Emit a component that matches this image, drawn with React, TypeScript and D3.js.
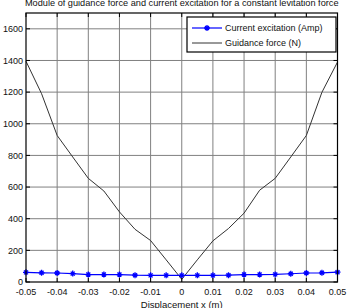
import React, { useEffect, useRef } from "react";
import * as d3 from "d3";

// displacement samples (m)
const displacement = [
  -0.05, -0.045, -0.04, -0.035, -0.03, -0.025, -0.02, -0.015, -0.01, -0.005, 0,
  0.005, 0.01, 0.015, 0.02, 0.025, 0.03, 0.035, 0.04, 0.045, 0.05,
];
// guidance force (N)
const guidanceForce = [
  1395, 1190, 926, 790, 655, 575, 443, 333, 262, 140, 17,
  140, 260, 338, 435, 580, 655, 790, 926, 1199, 1390,
];
// current excitation (Amp)
const currentExcitation = [
  61, 58, 57, 53, 47, 47, 47, 43, 42, 42, 42,
  42, 42, 43, 47, 47, 48, 52, 57, 58, 62,
];
const xTicks = [-0.05, -0.04, -0.03, -0.02, -0.01, 0, 0.01, 0.02, 0.03, 0.04, 0.05];
const yTicks = [0, 200, 400, 600, 800, 1000, 1200, 1400, 1600];

const W = 347;
const H = 308;
const FONT = "'Liberation Sans', Arial, sans-serif";

export default function App() {
  const svgRef = useRef<SVGSVGElement>(null);

  useEffect(() => {
    const svg = d3.select(svgRef.current);
    svg.selectAll("*").remove();

    const margin = { top: 13, right: 9.5, bottom: 26, left: 26 };
    const iw = W - margin.left - margin.right;
    const ih = H - margin.top - margin.bottom;

    const x = d3.scaleLinear().domain([-0.05, 0.05]).range([0, iw]);
    const y = d3.scaleLinear().domain([0, 1700]).range([ih, 0]);

    const g = svg.append("g").attr("transform", `translate(${margin.left},${margin.top})`);

    g.append("rect").attr("width", iw).attr("height", ih).attr("fill", "#fff");

    // grid
    g.append("g")
      .selectAll("line")
      .data(xTicks.slice(1, -1))
      .join("line")
      .attr("x1", (d) => x(d))
      .attr("x2", (d) => x(d))
      .attr("y1", 0)
      .attr("y2", ih)
      .attr("stroke", "#808080")
      .attr("stroke-width", 1);
    g.append("g")
      .selectAll("line")
      .data(yTicks.slice(1))
      .join("line")
      .attr("x1", 0)
      .attr("x2", iw)
      .attr("y1", (d) => y(d))
      .attr("y2", (d) => y(d))
      .attr("stroke", "#808080")
      .attr("stroke-width", 1);

    // guidance force
    const curve = d3
      .line<number>()
      .x((_, i) => x(displacement[i]))
      .y((d) => y(d));
    g.append("path")
      .datum(guidanceForce)
      .attr("d", curve)
      .attr("fill", "none")
      .attr("stroke", "#333")
      .attr("stroke-width", 1);

    // current excitation
    g.append("path")
      .datum(currentExcitation)
      .attr("d", curve)
      .attr("fill", "none")
      .attr("stroke", "#0000ff")
      .attr("stroke-width", 1.2);

    const star = (sel: d3.Selection<any, any, any, any>, cx: number, cy: number) => {
      const r = 3;
      sel.append("path")
        .attr(
          "d",
          `M${cx - r},${cy}L${cx + r},${cy}M${cx},${cy - r}L${cx},${cy + r}` +
            `M${cx - 2},${cy - 2}L${cx + 2},${cy + 2}M${cx - 2},${cy + 2}L${cx + 2},${cy - 2}`
        )
        .attr("stroke", "#0000ff")
        .attr("stroke-width", 1.3);
    };
    const markers = g.append("g");
    currentExcitation.forEach((v, i) => star(markers, x(displacement[i]), y(v)));

    // axes box and ticks
    g.append("rect")
      .attr("width", iw)
      .attr("height", ih)
      .attr("fill", "none")
      .attr("stroke", "#000")
      .attr("stroke-width", 1.2);

    const tl = 4;
    const ticks = g.append("g").attr("stroke", "#000").attr("stroke-width", 1);
    xTicks.forEach((t) => {
      ticks.append("line").attr("x1", x(t)).attr("x2", x(t)).attr("y1", ih).attr("y2", ih - tl);
      ticks.append("line").attr("x1", x(t)).attr("x2", x(t)).attr("y1", 0).attr("y2", tl);
    });
    yTicks.forEach((t) => {
      ticks.append("line").attr("x1", 0).attr("x2", tl).attr("y1", y(t)).attr("y2", y(t));
      ticks.append("line").attr("x1", iw).attr("x2", iw - tl).attr("y1", y(t)).attr("y2", y(t));
    });

    // tick labels
    g.append("g")
      .selectAll("text")
      .data(xTicks)
      .join("text")
      .attr("x", (d) => x(d))
      .attr("y", ih + 13)
      .attr("text-anchor", "middle")
      .attr("font-family", FONT)
      .attr("font-size", 9)
      .attr("fill", "#111")
      .text((d) => (d === 0 ? "0" : String(d)));
    g.append("g")
      .selectAll("text")
      .data(yTicks)
      .join("text")
      .attr("x", -3)
      .attr("y", (d) => y(d) + 3.2)
      .attr("text-anchor", "end")
      .attr("font-family", FONT)
      .attr("font-size", 9)
      .attr("fill", "#111")
      .text((d) => String(d));

    // axis label
    svg.append("text")
      .attr("x", margin.left + iw / 2)
      .attr("y", H - 0.5)
      .attr("text-anchor", "middle")
      .attr("font-family", FONT)
      .attr("font-size", 9.5)
      .attr("fill", "#111")
      .text("Displacement x (m)");

    // title
    svg.append("text")
      .attr("x", margin.left + iw / 2)
      .attr("y", 5.5)
      .attr("text-anchor", "middle")
      .attr("font-family", FONT)
      .attr("font-size", 9.2)
      .attr("fill", "#111")
      .text("Module of guidance force and current excitation for a constant levitation force");

    // legend
    const lg = svg.append("g").attr("transform", "translate(187,17)");
    lg.append("rect")
      .attr("width", 149)
      .attr("height", 35)
      .attr("fill", "#fff")
      .attr("stroke", "#000")
      .attr("stroke-width", 1.2);
    lg.append("line").attr("x1", 5).attr("x2", 35).attr("y1", 11).attr("y2", 11)
      .attr("stroke", "#0000ff").attr("stroke-width", 1.2);
    star(lg, 20, 11);
    lg.append("line").attr("x1", 5).attr("x2", 35).attr("y1", 26).attr("y2", 26)
      .attr("stroke", "#333").attr("stroke-width", 1);
    lg.append("text").attr("x", 38).attr("y", 14.2).attr("font-family", FONT)
      .attr("font-size", 9).attr("fill", "#111").text("Current excitation (Amp)");
    lg.append("text").attr("x", 38).attr("y", 29.2).attr("font-family", FONT)
      .attr("font-size", 9).attr("fill", "#111").text("Guidance force (N)");
  }, []);

  return (
    <svg
      ref={svgRef}
      width={W}
      height={H}
      style={{ position: "absolute", left: 0, top: 0, background: "#fff" }}
    />
  );
}
